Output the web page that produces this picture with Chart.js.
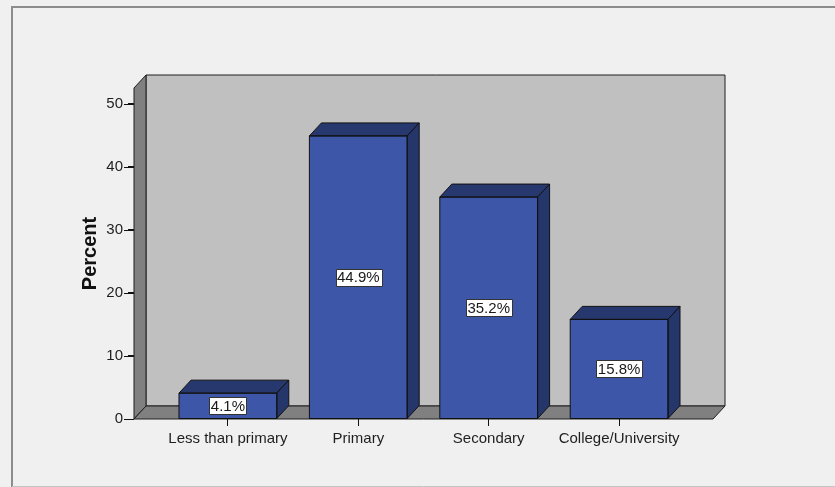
<!DOCTYPE html>
<html>
<head>
<meta charset="utf-8">
<script src="https://cdn.jsdelivr.net/npm/chart.js@4"></script>
<style>
  html, body { margin: 0; padding: 0; background: #f0f0f0; }
  #wrap { width: 835px; height: 487px; position: relative; }
</style>
</head>
<body>
<div id="wrap"><canvas id="c" width="835" height="487"></canvas></div>
<script>
// Education level distribution (percent of respondents)
const categories = ['Less than primary', 'Primary', 'Secondary', 'College/University'];
const percents = [4.1, 44.9, 35.2, 15.8];
const yTicks = [0, 10, 20, 30, 40, 50];
const yMax = 52.5;

// depth offset of the 3D box (pixels)
const DX = 12, DY = -13;
const FONT = '"Liberation Sans", Arial, sans-serif';

function poly(ctx, pts, fill, stroke) {
  ctx.beginPath();
  ctx.moveTo(pts[0][0], pts[0][1]);
  for (let i = 1; i < pts.length; i++) ctx.lineTo(pts[i][0], pts[i][1]);
  ctx.closePath();
  if (fill) { ctx.fillStyle = fill; ctx.fill(); }
  if (stroke) { ctx.strokeStyle = stroke; ctx.lineWidth = 1; ctx.stroke(); }
}

const box3d = {
  id: 'box3d',
  beforeDraw(chart) {
    const ctx = chart.ctx;
    ctx.save();
    ctx.fillStyle = '#f0f0f0';
    ctx.fillRect(0, 0, chart.width, chart.height);
    // outer frame
    ctx.strokeStyle = '#8c8c8c';
    ctx.lineWidth = 2;
    ctx.beginPath();
    ctx.moveTo(12, 487); ctx.lineTo(12, 7); ctx.lineTo(835, 7);
    ctx.stroke();
    ctx.strokeStyle = '#c4c4c4';
    ctx.lineWidth = 1;
    ctx.beginPath();
    ctx.moveTo(12, 486.5); ctx.lineTo(835, 486.5);
    ctx.stroke();
    ctx.restore();
  },
  beforeDatasetsDraw(chart) {
    const ctx = chart.ctx;
    const { left, right, top, bottom } = chart.chartArea;
    ctx.save();
    ctx.lineJoin = 'round';
    // back wall
    poly(ctx, [[left + DX, top + DY], [right + DX, top + DY], [right + DX, bottom + DY], [left + DX, bottom + DY]], '#c0c0c0', '#1e1e1e');
    // left side wall
    poly(ctx, [[left, bottom], [left, top], [left + DX, top + DY], [left + DX, bottom + DY]], '#808080', '#1e1e1e');
    // floor
    poly(ctx, [[left, bottom], [left + DX, bottom + DY], [right + DX, bottom + DY], [right, bottom]], '#808080', '#1e1e1e');
    ctx.restore();
  },
  afterDatasetsDraw(chart) {
    const ctx = chart.ctx;
    const meta = chart.getDatasetMeta(0);
    ctx.save();
    ctx.lineJoin = 'round';
    // y-axis tick marks on the front-left edge
    const ys = chart.scales.y;
    const left = chart.chartArea.left;
    ctx.strokeStyle = '#111';
    ctx.lineWidth = 1;
    yTicks.forEach(v => {
      const py = Math.round(ys.getPixelForValue(v)) + 0.5;
      ctx.beginPath();
      ctx.moveTo(left - 10, py);
      ctx.lineTo(left, py);
      ctx.stroke();
    });
    meta.data.forEach((bar, i) => {
      const { x, y, base, width } = bar.getProps(['x', 'y', 'base', 'width'], true);
      const l = x - width / 2, r = x + width / 2;
      // top face
      poly(ctx, [[l, y], [l + DX, y + DY], [r + DX, y + DY], [r, y]], '#27386f', '#111');
      // right side face
      poly(ctx, [[r, y], [r + DX, y + DY], [r + DX, base + DY], [r, base]], '#25366b', '#111');
      // front outline
      ctx.strokeStyle = '#111';
      ctx.lineWidth = 1;
      ctx.strokeRect(l, y, width, base - y);
      // value label
      const text = percents[i].toFixed(1) + '%';
      ctx.font = '15px ' + FONT;
      const tw = ctx.measureText(text).width;
      const cy = (y + base) / 2;
      const bw = tw + 3, bh = 17;
      ctx.fillStyle = '#ffffff';
      ctx.fillRect(Math.round(x - bw / 2) + 0.5, Math.round(cy - bh / 2) + 0.5, Math.round(bw), bh);
      ctx.strokeStyle = '#333';
      ctx.strokeRect(Math.round(x - bw / 2) + 0.5, Math.round(cy - bh / 2) + 0.5, Math.round(bw), bh);
      ctx.fillStyle = '#1a1a1a';
      ctx.textAlign = 'center';
      ctx.textBaseline = 'middle';
      ctx.fillText(text, x, cy + 1);
    });
    ctx.restore();
  }
};

new Chart(document.getElementById('c'), {
  type: 'bar',
  data: {
    datasets: [{
      data: percents.map((v, i) => ({ x: i, y: v })),
      backgroundColor: '#3d56a8',
      borderColor: '#111',
      borderWidth: 0,
      barPercentage: 0.75,
      categoryPercentage: 1.0
    }]
  },
  options: {
    responsive: false,
    animation: false,
    events: [],
    layout: { padding: { top: 88, right: 122, left: 0, bottom: 0 } },
    plugins: { legend: { display: false }, tooltip: { enabled: false } },
    scales: {
      x: {
        type: 'linear',
        min: -0.72,
        max: 3.72,
        offset: false,
        afterBuildTicks: (s) => { s.ticks = categories.map((c, i) => ({ value: i })); },
        afterFit: (s) => { s.height = 68; },
        ticks: {
          autoSkip: false,
          maxRotation: 0,
          padding: 4,
          color: '#1e1e1e',
          font: { family: FONT, size: 15 },
          callback: (v) => categories[v]
        },
        grid: { offset: false, drawOnChartArea: false, drawTicks: true, tickLength: 7, color: '#111', lineWidth: 1 },
        border: { display: false }
      },
      y: {
        min: 0,
        max: yMax,
        afterBuildTicks: (s) => { s.ticks = yTicks.map(v => ({ value: v })); },
        afterFit: (s) => { s.width = 134; },
        ticks: {
          padding: 5,
          color: '#1e1e1e',
          font: { family: FONT, size: 15 }
        },
        grid: { drawOnChartArea: false, drawTicks: true, tickLength: 6, color: '#111', lineWidth: 1 },
        border: { display: false },
        title: {
          display: true,
          text: 'Percent',
          color: '#111',
          font: { family: FONT, size: 20, weight: 'bold' },
          padding: { top: 78, bottom: 0 }
        }
      }
    }
  },
  plugins: [box3d]
});
</script>
</body>
</html>
